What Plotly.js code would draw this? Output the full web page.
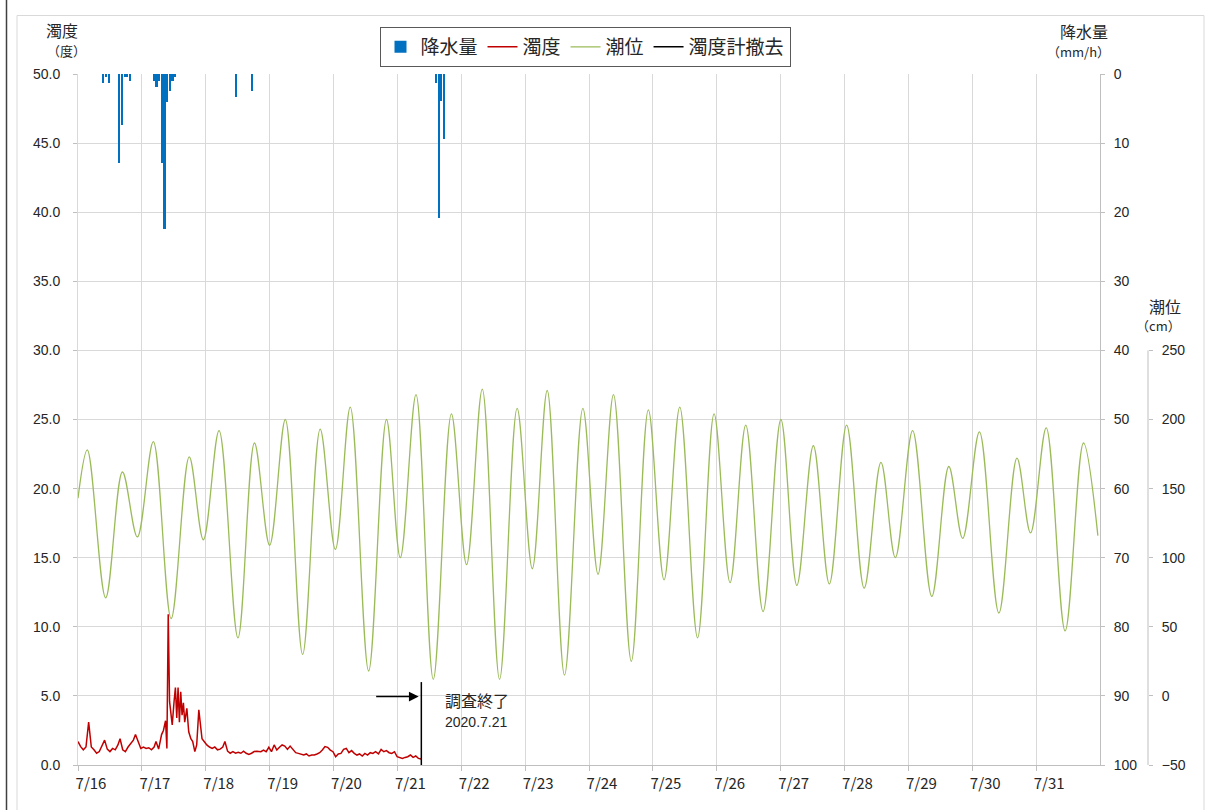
<!DOCTYPE html>
<html>
<head>
<meta charset="utf-8">
<script src="https://cdn.plot.ly/plotly-3.0.1.min.js"></script>
<style>
  html, body { margin: 0; padding: 0; background: #ffffff; }
  #chart { width: 1212px; height: 810px; }
</style>
</head>
<body>
<div id="chart"></div>
<script>
// ---- Data (hours measured from 2020-07-16 00:00) ----
const rainHours = [9.5, 10.5, 11.5, 15.5, 16.5, 17.5, 18.5, 19.5,
                   28.5, 29.5, 30.5, 31.5, 32.5, 33.5, 34.5, 35.5, 36.5,
                   59.5, 65.5, 134.5, 135.5, 136.5, 137.5];
const rainValues = [1.3, 0.5, 1.3, 12.9, 7.4, 0.4, 0.4, 1.0,
                    1.0, 1.9, 1.0, 12.9, 22.4, 4.0, 2.4, 1.0, 0.4,
                    3.4, 2.4, 1.3, 20.9, 3.9, 9.4];

const turbHours = [0,1,2,3,4,5,6,7,8,9,10,11,12,13,14,15,
  15.8,16.8,17.8,18.8,19.8,20.8,21.6,22.6,23.6,24.6,25.6,26.6,27.6,28.6,29.3,30.3,
  31.4,32.1,32.9,33.4,33.9,34.4,34.9,35.4,36.1,36.6,37.1,37.6,38.1,38.6,39.1,39.6,40.1,40.9,
  41.6,42.4,43.1,43.9,44.6,45.4,45.9,46.6,47.4,48.4,49.4,50.4,51.4,52.4,53.4,54.4,
  55.2,56.2,57.2,58.2,59.2,60.2,61.2,62.2,63.2,64.2,65.2,66.2,67.2,
  68.7,69.7,70.7,71.7,72.7,73.7,74.7,75.7,76.7,77.7,78.7,79.7,
  80.8,81.8,82.8,83.8,84.8,85.8,86.8,87.8,88.8,89.8,90.8,91.8,92.8,93.8,94.8,95.8,
  96.8,97.8,98.8,99.8,100.8,101.8,102.8,103.8,104.8,105.8,106.8,107.8,108.8,109.8,110.8,111.8,
  112.9,113.9,114.9,115.9,116.9,117.9,118.9,119.9,120.9,121.9,122.9,123.9,124.9,125.9,126.9,127.9,128.9];
const turbValues = [1.7,1.33,1.1,1.3,3.1,1.3,1.1,0.85,0.97,1.45,1.8,1.15,0.97,1.2,1.1,1.45,
  1.9,1.1,0.97,1.3,1.6,1.8,2.2,1.7,1.2,1.3,1.2,1.25,1.1,1.3,1.7,1.15,
  2.2,2.5,3.2,1.2,10.9,4.6,3.9,2.9,4.6,5.6,3.4,5.6,3.1,5.3,3.6,4.5,3.1,4.1,
  2.4,1.9,1.7,0.97,1.45,4.0,3.1,1.9,1.7,1.45,1.3,1.2,1.3,1.1,1.15,1.3,
  1.7,1.0,0.85,0.97,0.85,0.92,0.85,1.0,0.85,0.77,0.85,0.97,1.0,
  0.96,1.08,0.96,1.28,0.96,1.45,1.08,1.28,1.45,1.37,1.13,1.37,
  1.08,0.89,0.84,0.8,0.72,0.8,0.65,0.72,0.72,0.8,0.89,1.08,1.33,1.28,1.08,0.96,
  0.6,0.8,0.84,1.13,1.2,0.89,1.04,0.84,0.72,0.8,0.65,0.84,0.72,0.89,0.84,0.96,
  0.8,1.13,0.96,1.04,0.89,0.84,0.96,0.6,0.55,0.48,0.55,0.6,0.72,0.55,0.65,0.48,0.43];

// tide: readings of start, each high/low extreme, and end (cm)
const tideHours = [0,3.5,10.4,16.7,22.3,28.3,35.0,41.8,47.1,53.0,60.1,66.3,72.0,77.9,84.4,91.0,96.7,
  102.3,109.2,115.9,121.1,127.0,133.5,140.3,146.0,151.9,158.4,165.0,170.7,176.3,182.8,189.7,195.4,
  201.2,207.9,214.3,220.2,226.1,232.8,239.0,245.0,250.9,257.4,264.1,270.1,276.3,282.3,288.8,295.4,
  301.7,307.1,313.6,320.8,327.2,332.4,338.7,346.0,352.8,357.9,363.8,370.9,377.8,383.2];
const tideValues = [143,178,71,162,115,184,56,173,113,192,42,183,109,200,30,193,106,
  209,18,200,100,218,12,204,95,222,12,208,92,221,15,208,88,
  218,25,207,84,209,42,204,82,196,61,200,80,181,81,196,78,
  169,100,192,72,166,114,191,60,172,118,194,47,183,116];

const removalHours = [129, 129];
const removalValues = [0, 6.0];

const dayTickDates = ['2020-07-16','2020-07-17','2020-07-18','2020-07-19','2020-07-20','2020-07-21',
  '2020-07-22','2020-07-23','2020-07-24','2020-07-25','2020-07-26','2020-07-27','2020-07-28',
  '2020-07-29','2020-07-30','2020-07-31'];
const dayTickLabels = ['7/16','7/17','7/18','7/19','7/20','7/21','7/22','7/23','7/24','7/25',
  '7/26','7/27','7/28','7/29','7/30','7/31'];

const turbTicks = [0,5,10,15,20,25,30,35,40,45,50];
const rainTicks = [0,10,20,30,40,50,60,70,80,90,100];
const tideTicks = [-50,0,50,100,150,200,250];

// ---- helpers ----
function hToDate(h) {
  const d = new Date(Date.UTC(2020, 6, 16) + Math.round(h * 3600000));
  return d.toISOString().slice(0, 19).replace('T', ' ');
}

const JP = '"Noto Sans CJK JP", "Noto Sans", sans-serif';
const NUM = '"Liberation Sans", Arial, sans-serif';
const TXT = '#262626';
const AXC = '#bfbfbf';
const GRID = '#d9d9d9';

// layout geometry (pixels -> paper)
const ML = 78, MR = 52, MT = 74, MB = 45;
const PW = 1212 - ML - MR, PH = 810 - MT - MB;
const px = v => (v - ML) / PW;
const py = v => (810 - MB - v) / PH;
const xEnd = px(1100);
const tidePos = px(1148);

const traces = [
  {
    type: 'bar', name: '降水量',
    x: rainHours.map(hToDate), y: rainValues,
    width: 0.78 * 3600000,
    marker: { color: '#0070C0', line: { width: 0 } },
    yaxis: 'y2', hoverinfo: 'skip'
  },
  {
    type: 'scatter', mode: 'lines', name: '濁度',
    x: turbHours.map(hToDate), y: turbValues,
    line: { color: '#C00000', width: 1.5 },
    yaxis: 'y', hoverinfo: 'skip'
  },
  {
    type: 'scatter', mode: 'lines', name: '潮位',
    x: tideHours.map(hToDate), y: tideValues,
    line: { color: '#9BBB59', width: 1.3, shape: 'spline', smoothing: 1 },
    yaxis: 'y3', hoverinfo: 'skip'
  },
  {
    type: 'scatter', mode: 'lines', name: '濁度計撤去',
    x: removalHours.map(hToDate), y: removalValues,
    line: { color: '#000000', width: 1.5 },
    yaxis: 'y', hoverinfo: 'skip'
  }
];

const layout = {
  width: 1212, height: 810,
  margin: { l: ML, r: MR, t: MT, b: MB, pad: 0 },
  paper_bgcolor: '#ffffff', plot_bgcolor: 'rgba(0,0,0,0)',
  font: { family: NUM, size: 14, color: TXT },
  showlegend: true,
  bargap: 0,
  legend: {
    orientation: 'h', x: px(585), xanchor: 'center', y: py(27), yanchor: 'top',
    bordercolor: '#595959', borderwidth: 1, bgcolor: '#ffffff',
    font: { family: JP, size: 19, color: TXT },
    traceorder: 'normal', itemwidth: 30
  },
  xaxis: {
    type: 'date', domain: [0, xEnd],
    range: ['2020-07-16 00:00:00', '2020-08-01 00:00:00'],
    tickmode: 'array', tickvals: dayTickDates, ticktext: dayTickLabels,
    ticklabelshift: 13,
    showgrid: true, gridcolor: GRID, gridwidth: 1,
    showline: true, linecolor: AXC, linewidth: 1,
    ticks: 'outside', ticklen: 5, tickcolor: AXC,
    tickfont: { family: JP, size: 15, color: TXT },
    zeroline: false, fixedrange: true
  },
  yaxis: {
    range: [0, 50], tickvals: turbTicks, tickformat: '.1f',
    showgrid: true, gridcolor: GRID, gridwidth: 1,
    showline: true, linecolor: GRID,
    ticks: 'outside', ticklen: 4, tickcolor: AXC,
    ticklabelstandoff: 10,
    tickfont: { family: NUM, size: 14, color: TXT },
    zeroline: false, fixedrange: true
  },
  yaxis2: {
    overlaying: 'y', side: 'right', anchor: 'x',
    range: [100, 0], tickvals: rainTicks,
    showgrid: false, showline: true, linecolor: AXC,
    ticks: 'outside', ticklen: 4, tickcolor: AXC,
    ticklabelstandoff: 6,
    tickfont: { family: NUM, size: 14, color: TXT },
    zeroline: false, fixedrange: true
  },
  yaxis3: {
    overlaying: 'y', side: 'right', anchor: 'free', position: tidePos,
    range: [-50, 450], tickvals: tideTicks,
    showgrid: false, showline: false,
    ticks: 'outside', ticklen: 4, tickcolor: AXC,
    ticklabelstandoff: 6,
    tickfont: { family: NUM, size: 14, color: TXT },
    zeroline: false, fixedrange: true, automargin: false
  },
  shapes: [
    // tide axis line (only spans its own scale)
    { type: 'line', xref: 'paper', yref: 'y3', x0: tidePos, x1: tidePos, y0: -50, y1: 250,
      line: { color: AXC, width: 1 } },
    // chart frame
    { type: 'rect', xref: 'paper', yref: 'paper', x0: px(17), x1: px(1204), y0: py(815), y1: py(15.5),
      line: { color: GRID, width: 1 }, fillcolor: 'rgba(0,0,0,0)', layer: 'below' },
    { type: 'line', xref: 'paper', yref: 'paper', x0: px(6.5), x1: px(6.5), y0: py(815), y1: py(-5),
      line: { color: '#404040', width: 1.5 } }
  ],
  annotations: [
    { xref: 'paper', yref: 'paper', x: px(44), y: py(16), text: '濁度', showarrow: false,
      font: { family: JP, size: 16, color: TXT } },
    { xref: 'paper', yref: 'paper', x: px(45), y: py(39), text: '（度）', showarrow: false,
      font: { family: JP, size: 13, color: TXT } },
    { xref: 'paper', yref: 'paper', x: px(1110), y: py(17), text: '降水量', showarrow: false,
      font: { family: JP, size: 16, color: TXT } },
    { xref: 'paper', yref: 'paper', x: px(1112), y: py(40), text: '（mm/h）', showarrow: false,
      font: { family: JP, size: 13, color: TXT } },
    { xref: 'paper', yref: 'paper', x: px(1183), y: py(306), text: '潮位', showarrow: false,
      font: { family: JP, size: 16, color: TXT } },
    { xref: 'paper', yref: 'paper', x: px(1183), y: py(325), text: '（cm）', showarrow: false,
      font: { family: JP, size: 13, color: TXT } },
    // end-of-survey arrow
    { xref: 'x', yref: 'y', x: hToDate(128), y: 4.95, ax: -44, ay: 0, text: '',
      showarrow: true, arrowhead: 2, arrowsize: 1.3, arrowwidth: 1.5, arrowcolor: '#000000', standoff: 0 },
    { xref: 'x', yref: 'y', x: hToDate(137), y: 4.7, xanchor: 'left', text: '調査終了', showarrow: false,
      font: { family: JP, size: 16, color: TXT } },
    { xref: 'x', yref: 'y', x: hToDate(137), y: 3.1, xanchor: 'left', text: '2020.7.21', showarrow: false,
      font: { family: NUM, size: 14, color: TXT } }
  ]
};

Plotly.newPlot('chart', traces, layout, { staticPlot: true, displayModeBar: false });
</script>
</body>
</html>
